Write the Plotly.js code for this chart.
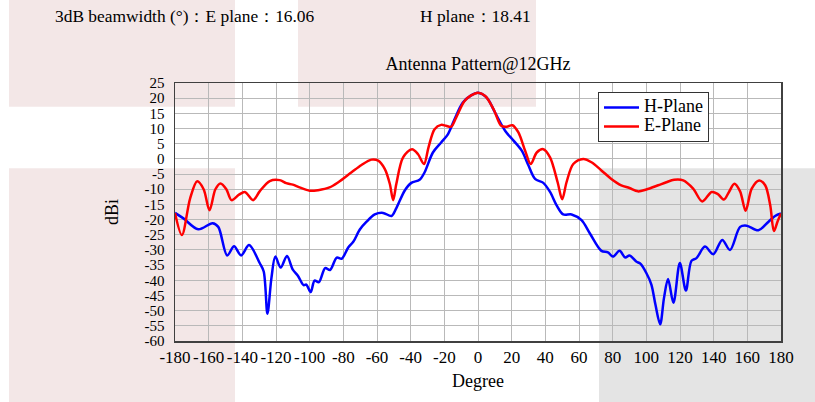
<!DOCTYPE html>
<html>
<head>
<meta charset="utf-8">
<script src="https://cdn.plot.ly/plotly-3.0.1.min.js"></script>
<style>html,body{margin:0;padding:0;background:#fff;}#chart{width:815px;height:402px;}</style>
</head>
<body>
<div id="chart"></div>
<script>
// ---- data ----
const hPlaneDeg = [-180,-175,-166.2,-157.7,-154.3,-149,-144.9,-140.7,-136,-129.7,-127.3,-125.1,-122.7,-120.4,-117.2,-113.5,-110,-107,-103.6,-102,-99.4,-97.1,-94.5,-90.8,-87.9,-83.9,-81,-77,-74.1,-70.1,-66.2,-61.3,-56.4,-51.4,-48.5,-43.5,-39.6,-34.7,-31.7,-26.8,-21.9,-17.9,-14,-9.1,-4.1,0,5.3,10.2,16.2,21.1,26,30,33.9,38.8,42.8,46.7,50.6,55.6,61.5,66.4,73.3,77.2,80.2,84.1,87.5,90,94,96.6,100,103,105.4,108.2,110.5,112.9,116.1,119.9,123.5,126.8,129.8,134.8,139.8,145.1,149.7,155.7,159.6,166.6,172.6,176.5,180];
const hPlaneDb = [-17.8,-19.6,-23.2,-21.2,-22.4,-31.8,-28.8,-31.8,-28.4,-34.3,-37.1,-51.0,-39.2,-32.2,-35.8,-32.0,-36.5,-38.5,-41.6,-41.4,-43.9,-40.1,-40.6,-36.0,-36.6,-32.5,-32.9,-29.1,-27.3,-23.2,-20.7,-18.3,-17.8,-18.8,-16.2,-10.4,-7.9,-6.9,-4.4,2.1,5.4,8.1,13.0,18.5,20.9,21.8,20.1,15.2,9.2,6.0,2.7,-2.2,-6.6,-7.9,-10.9,-15.3,-18.3,-18.3,-20.2,-24.5,-30.3,-30.8,-32.2,-30.3,-32.5,-31.8,-33.8,-34.6,-37.6,-41.4,-48.0,-54.5,-45.8,-39.6,-47.4,-34.3,-43.4,-33.6,-32.7,-28.9,-31.4,-26.7,-30.0,-22.4,-22.0,-23.5,-20.7,-18.8,-18.0];

const ePlaneDeg = [-180,-175.9,-171,-166.8,-163,-159.5,-156,-153,-149.5,-146.4,-142,-138.5,-133.6,-129.7,-123.7,-117.8,-113.9,-110,-106,-100,-95,-88.2,-83,-75.1,-69.2,-63.3,-59.3,-55.4,-52.4,-50.4,-48.5,-44.5,-39.2,-35.7,-32.1,-29.4,-25.8,-21.9,-19,-16,-13,-8.1,-4.1,0,4.3,9.3,13.8,17.1,20.5,24,28,31.3,34.9,38.8,42.8,47.3,50,52.6,56.6,62.5,67.4,73.3,79.2,85.1,90,95,100,107,111.9,116.5,121.9,127.8,133.2,138.8,142.3,146.1,149.1,152.3,155.7,159,162.6,167,170.6,173.6,175.8,177.9,180];
const ePlaneDb = [-17.8,-25.1,-13,-7.4,-10,-16.9,-10,-8.1,-10,-13.6,-11.8,-10.9,-13.6,-10.7,-7.3,-7.0,-8.0,-8.5,-9.4,-10.5,-10.3,-9.4,-7.7,-4.4,-2.0,-0.25,-0.6,-3.3,-8.2,-13.6,-8.2,0.5,3.2,1.6,-1.7,3.8,9.8,11.2,10.9,10.6,13.6,19.0,20.9,21.8,20.7,16.3,10.9,10.6,11.1,8.7,2.7,-1.7,2.1,3.2,0.5,-7.7,-13.3,-7.7,-1.7,-0.03,-1.1,-3.8,-6.6,-8.7,-9.6,-10.7,-10.1,-8.7,-7.7,-6.9,-7.1,-9.8,-14.0,-10.9,-11.5,-13.4,-10.9,-8.2,-10.7,-17.1,-9.8,-7.1,-8.7,-15.3,-23.8,-20.7,-18.0];

const seriesNames = ['H-Plane', 'E-Plane'];
const xTickVals = [-180,-160,-140,-120,-100,-80,-60,-40,-20,0,20,40,60,80,100,120,140,160,180];
const yTickVals = [25,20,15,10,5,0,-5,-10,-15,-20,-25,-30,-35,-40,-45,-50,-55,-60];
const chartTitle = 'Antenna Pattern@12GHz';
const headerLeft = '3dB beamwidth (°)：E plane：16.06';
const headerRight = 'H plane：18.41';

// ---- layout geometry ----
const W = 815, H = 402;
const M = {l: 175, r: 34, t: 83, b: 61};
const PW = W - M.l - M.r, PH = H - M.t - M.b;
const px = x => (x - M.l) / PW;
const py = y => (H - M.b - y) / PH;
const FONT = 'Liberation Serif, Times New Roman, serif';

function rect(x0, y0, x1, y1, color) {
  return {type: 'rect', xref: 'paper', yref: 'paper', layer: 'below',
    x0: px(x0), x1: px(x1), y0: py(y1), y1: py(y0),
    fillcolor: color, line: {width: 0}};
}
const PINK = 'rgb(243,231,231)', GRAY = 'rgb(228,228,228)';

const legendName = s => '<span style="font-size:18px">' + s + '</span>';

const traces = [
  {x: hPlaneDeg, y: hPlaneDb, name: legendName(seriesNames[0]), mode: 'lines',
   line: {color: '#0000ff', width: 2.5, shape: 'spline', smoothing: 0.9}},
  {x: ePlaneDeg, y: ePlaneDb, name: legendName(seriesNames[1]), mode: 'lines',
   line: {color: '#ff0000', width: 2.5, shape: 'spline', smoothing: 0.9}}
];

const axisCommon = {
  showline: true, mirror: true, linecolor: '#404040', linewidth: 1.5,
  showgrid: true, gridcolor: '#b9b9b9', gridwidth: 1,
  zeroline: false, ticks: ''
};

const layout = {
  width: W, height: H,
  margin: M,
  paper_bgcolor: '#ffffff',
  plot_bgcolor: 'rgba(0,0,0,0)',
  font: {family: FONT, size: 18, color: '#000'},
  title: {text: chartTitle, x: 0.5, xref: 'paper', xanchor: 'center',
          y: 1 - 64 / H, yref: 'container', yanchor: 'middle',
          font: {family: FONT, size: 18, color: '#000'}},
  xaxis: Object.assign({}, axisCommon, {
    range: [-180, 180], tickmode: 'array', tickvals: xTickVals,
    ticktext: xTickVals.map(String), ticklabelstandoff: 0, tickangle: 0,
    tickfont: {family: FONT, size: 17, color: '#000'},
    title: {text: 'Degree', standoff: 8, font: {family: FONT, size: 18, color: '#000'}}
  }),
  yaxis: Object.assign({}, axisCommon, {
    range: [-60, 25], tickmode: 'array', tickvals: yTickVals,
    ticktext: yTickVals.map(String), ticklabelstandoff: 6,
    tickfont: {family: FONT, size: 15, color: '#000'},
    title: {text: 'dBi', standoff: 21, font: {family: FONT, size: 18, color: '#000'}}
  }),
  legend: {x: px(598), y: py(92), xanchor: 'left', yanchor: 'top',
    bgcolor: '#ffffff', bordercolor: '#333333', borderwidth: 1,
    itemwidth: 35,
    font: {family: FONT, size: 11.5, color: '#000'}, tracegroupgap: 0},
  showlegend: true,
  shapes: [
    rect(9, 0, 235, 106.7, PINK),
    rect(298, 0, 536, 106.7, PINK),
    rect(9, 168.3, 235, 402, PINK),
    rect(599, 168.3, 815, 402, GRAY)
  ],
  annotations: [
    {text: headerLeft, xref: 'paper', yref: 'paper', x: px(53), y: py(16),
     xanchor: 'left', yanchor: 'middle', showarrow: false,
     font: {family: FONT, size: 17.4, color: '#000'}},
    {text: headerRight, xref: 'paper', yref: 'paper', x: px(418), y: py(16),
     xanchor: 'left', yanchor: 'middle', showarrow: false,
     font: {family: FONT, size: 17.4, color: '#000'}}
  ]
};

Plotly.newPlot('chart', traces, layout, {staticPlot: true, displayModeBar: false});
</script>
</body>
</html>
